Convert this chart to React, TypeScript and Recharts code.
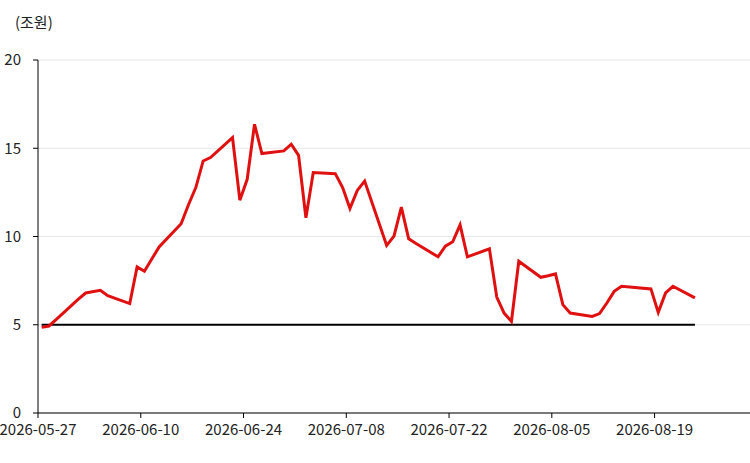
import { LineChart, Line, XAxis, YAxis, CartesianGrid } from 'recharts';

const dates = [
  '2026-05-27', '2026-05-28', '2026-05-29', '2026-06-01', '2026-06-02', '2026-06-04', '2026-06-05',
  '2026-06-08', '2026-06-09', '2026-06-10', '2026-06-11', '2026-06-12',
  '2026-06-15', '2026-06-16', '2026-06-17', '2026-06-18', '2026-06-19',
  '2026-06-22', '2026-06-23', '2026-06-24', '2026-06-25', '2026-06-26',
  '2026-06-29', '2026-06-30', '2026-07-01', '2026-07-02', '2026-07-03',
  '2026-07-06', '2026-07-07', '2026-07-08', '2026-07-09', '2026-07-10',
  '2026-07-13', '2026-07-14', '2026-07-15', '2026-07-16', '2026-07-17',
  '2026-07-20', '2026-07-21', '2026-07-22', '2026-07-23', '2026-07-24',
  '2026-07-27', '2026-07-28', '2026-07-29', '2026-07-30', '2026-07-31',
  '2026-08-03', '2026-08-04', '2026-08-05', '2026-08-06', '2026-08-07',
  '2026-08-10', '2026-08-11', '2026-08-12', '2026-08-13', '2026-08-14',
  '2026-08-18', '2026-08-19', '2026-08-20', '2026-08-21',
  '2026-08-24',
];

const balance = [
  4.85, 4.93, 5.3, 6.45, 6.8, 6.95, 6.65,
  6.2, 8.28, 8.03, 8.72, 9.41,
  10.72, 11.8, 12.77, 14.28, 14.47,
  15.6, 12.06, 13.24, 16.36, 14.7,
  14.85, 15.23, 14.6, 11.06, 13.62,
  13.56, 12.77, 11.59, 12.61, 13.14,
  9.49, 10.02, 11.66, 9.87, 9.6,
  8.85, 9.45, 9.7, 10.66, 8.85,
  9.3, 6.57, 5.66, 5.19, 8.6,
  7.69, 7.78, 7.88, 6.14, 5.66,
  5.47, 5.63, 6.23, 6.89, 7.18,
  7.03, 5.7, 6.8, 7.18,
  6.52,
];

const threshold = 5;

const xTickLabels = ['2026-05-27', '2026-06-10', '2026-06-24', '2026-07-08', '2026-07-22', '2026-08-05', '2026-08-19'];
const yTicks = [0, 5, 10, 15, 20];

const DAY = 86400000;
const START = Date.parse('2026-05-27T00:00:00Z');
const dayOf = (d: string) => (Date.parse(d + 'T00:00:00Z') - START) / DAY;

// daily values sit mid-day, ticks at midnight
const data = dates.map((d, i) => ({ t: dayOf(d) + 0.5, value: balance[i], base: threshold }));
const xTicks = xTickLabels.map(dayOf);
const labelOf = (t: number) => xTickLabels[xTicks.indexOf(t)] ?? '';

const font = '"Noto Sans CJK KR", "Noto Sans", sans-serif';
const tickStyle = { fontSize: 15, fill: '#222', fontFamily: font };

export default function App() {
  return (
    <div style={{ position: 'absolute', left: 0, top: 0, width: 750, height: 463, background: '#fff' }}>
      <div style={{ position: 'absolute', left: 15, top: 11, fontSize: 15, fontFamily: font, color: '#222' }}>
        (조원)
      </div>
      <LineChart width={750} height={463} data={data} margin={{ top: 60, right: 0, bottom: 20, left: 0 }}>
        <CartesianGrid vertical={false} stroke="#e8e8e8" />
        <XAxis
          type="number"
          dataKey="t"
          domain={[0, 97]}
          ticks={xTicks}
          tickFormatter={labelOf}
          tick={tickStyle}
          tickSize={5}
          tickMargin={6}
          height={30}
          stroke="#000"
          interval={0}
        />
        <YAxis
          domain={[0, 20]}
          ticks={yTicks}
          tick={tickStyle}
          tickSize={5}
          tickMargin={12}
          width={38}
          stroke="#000"
        />
        <Line
          type="linear"
          dataKey="base"
          stroke="#000"
          strokeWidth={2}
          dot={false}
          isAnimationActive={false}
        />
        <Line
          type="linear"
          dataKey="value"
          stroke="#e01010"
          strokeWidth={3}
          dot={false}
          isAnimationActive={false}
        />
      </LineChart>
    </div>
  );
}
